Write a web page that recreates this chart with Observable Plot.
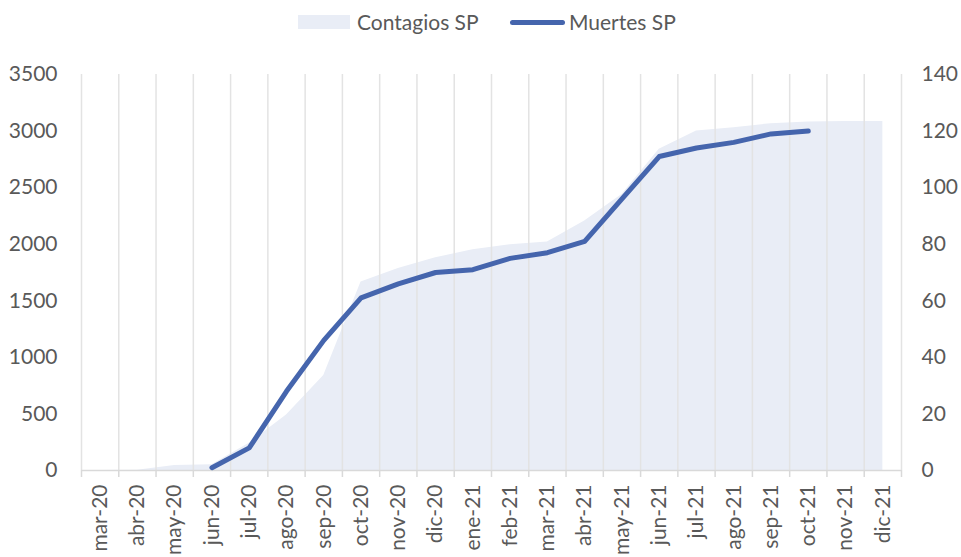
<!DOCTYPE html>
<html>
<head>
<meta charset="utf-8">
<script src="https://cdn.jsdelivr.net/npm/d3@7"></script>
<script src="https://cdn.jsdelivr.net/npm/@observablehq/plot@0.6"></script>
<style>
  body { margin: 0; background: #fff; font-family: Lato, "Open Sans", sans-serif; color: #595959; }
  #legend { position: relative; height: 45px; width: 961px; }
  .item { position: absolute; top: 8px; font-size: 21px; line-height: 28px; display: flex; align-items: center; }
  .swA { display: inline-block; width: 52px; height: 14px; background: #e9edf6; margin-right: 7px; }
  .swL { display: inline-block; width: 55px; height: 5px; border-radius: 3px; background: #4565ad; margin-right: 4px; }
  #chart svg { display: block; }
</style>
</head>
<body>
<div id="legend">
  <div class="item" style="left:298px"><span class="swA"></span>Contagios SP</div>
  <div class="item" style="left:510px"><span class="swL"></span>Muertes SP</div>
</div>
<div id="chart"></div>
<script>
const months = ["mar-20","abr-20","may-20","jun-20","jul-20","ago-20","sep-20","oct-20","nov-20","dic-20","ene-21","feb-21","mar-21","abr-21","may-21","jun-21","jul-21","ago-21","sep-21","oct-21","nov-21","dic-21"];
const contagios = [0, 3, 44, 50, 240, 490, 840, 1665, 1785, 1880, 1950, 1995, 2020, 2205, 2440, 2840, 3000, 3030, 3065, 3080, 3085, 3085];
const muertes = [null, null, null, 1, 8, 28, 46, 61, 66, 70, 71, 75, 77, 81, 96, 111, 114, 116, 119, 120, null, null];
const leftTicks = [0, 500, 1000, 1500, 2000, 2500, 3000, 3500];
const rightTicks = [0, 20, 40, 60, 80, 100, 120, 140];

const ratio = 3500 / 140;
const areaData = months.map((m, i) => ({i, c: contagios[i]}));
const lineData = months.map((m, i) => ({i, d: muertes[i]})).filter(d => d.d != null);
const idx = d3.range(months.length);
const bounds = d3.range(months.length + 1).map(i => i - 0.5);

const txt = "#595959";
const plot = Plot.plot({
  width: 961,
  height: 512,
  marginTop: 29,
  marginBottom: 87,
  marginLeft: 81,
  marginRight: 60,
  style: {fontFamily: "Lato, 'Open Sans', sans-serif", fontSize: "21px", color: txt, background: "#fff"},
  x: {type: "linear", domain: [-0.5, months.length - 0.5]},
  y: {domain: [0, 3500]},
  marks: [
    Plot.areaY(areaData, {x: "i", y: "c", fill: "#e9edf6"}),
    Plot.ruleX(bounds, {y1: 0, y2: 3500, stroke: "#e3e3e3", strokeWidth: 1.5}),
    Plot.ruleY([0], {stroke: "#d9d9d9", strokeWidth: 1.5}),
    Plot.axisX(bounds, {tickSize: 7, tickFormat: () => "", stroke: "#d9d9d9", strokeWidth: 1.5, label: null}),
    Plot.axisX(idx, {tickSize: 0, tickPadding: 14, tickRotate: -90, tickFormat: i => months[i], fill: txt, label: null, fontSize: 21}),
    Plot.axisY(leftTicks, {anchor: "left", tickSize: 0, tickPadding: 24, tickFormat: v => String(v), fill: txt, label: null, fontSize: 21}),
    Plot.axisY(rightTicks.map(v => v * ratio), {anchor: "right", tickSize: 0, tickPadding: 20, tickFormat: v => String(Math.round(v / ratio)), fill: txt, label: null, fontSize: 21}),
    Plot.line(lineData, {x: "i", y: d => d.d * ratio, stroke: "#4565ad", strokeWidth: 5, strokeLinecap: "round", strokeLinejoin: "round"})
  ]
});
document.getElementById("chart").appendChild(plot);
</script>
</body>
</html>
